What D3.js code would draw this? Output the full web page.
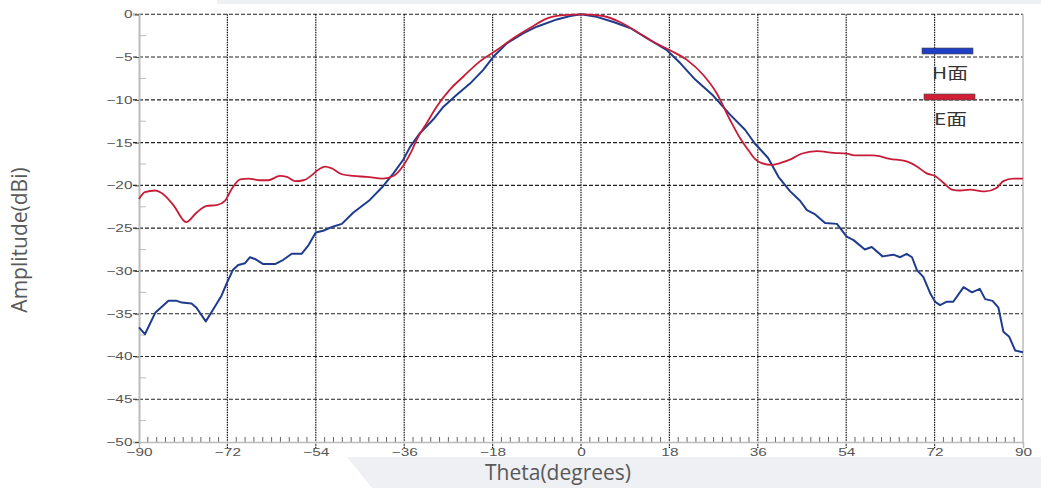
<!DOCTYPE html>
<html>
<head>
<meta charset="utf-8">
<script src="https://cdn.jsdelivr.net/npm/d3@7"></script>
<style>
  body { margin: 0; background: #fff; }
  #container { width: 1041px; height: 488px; }
</style>
</head>
<body>
<div id="container"></div>
<script>
/* DATA */
const xTicks = [-90, -72, -54, -36, -18, 0, 18, 36, 54, 72, 90];
const yTicks = [0, -5, -10, -15, -20, -25, -30, -35, -40, -45, -50];

// H面 (blue)
const hTheta = [-90, -88.8, -86.7, -84.0, -82.3, -81.3, -79.3, -78.3, -76.4, -74.9, -73.2, -72.1, -70.9, -69.8, -68.4, -67.4, -66.4, -64.7, -62.3, -60.6, -58.9, -56.9, -55.5, -54.0, -52.5, -50.4, -48.7, -46.4, -43.0, -40.3, -38.2, -36.2, -34.8, -32.8, -30.1, -28.0, -25.3, -22.6, -19.9, -17.9, -15.1, -11.7, -9.0, -4.9, -2.2, 0, 3.2, 6.6, 10.0, 13.4, 17.5, 20.2, 23.2, 26.9, 30.3, 33.4, 35.4, 38.1, 40.2, 42.6, 44.6, 46.0, 47.7, 49.7, 52.1, 54.1, 55.5, 57.8, 59.2, 61.4, 63.6, 65.0, 66.3, 67.4, 68.4, 69.7, 71.1, 72.1, 73.1, 74.5, 75.8, 77.9, 79.6, 81.2, 82.3, 83.8, 85.0, 86.0, 87.2, 88.4, 90];
const hGain = [-36.6, -37.4, -34.9, -33.5, -33.5, -33.7, -33.8, -34.3, -35.9, -34.5, -32.9, -31.4, -29.9, -29.3, -29.1, -28.4, -28.6, -29.2, -29.2, -28.7, -28.0, -28.0, -27.0, -25.5, -25.3, -24.8, -24.5, -23.2, -21.7, -20.1, -18.6, -17.0, -15.5, -13.9, -12.3, -10.8, -9.4, -8.1, -6.5, -5.0, -3.4, -2.2, -1.45, -0.6, -0.2, 0, -0.3, -0.9, -1.6, -2.8, -4.2, -5.7, -7.6, -9.5, -11.7, -13.5, -15.1, -16.8, -19.0, -20.7, -21.8, -22.9, -23.4, -24.4, -24.5, -26.0, -26.4, -27.5, -27.2, -28.3, -28.1, -28.4, -28.0, -28.4, -29.9, -30.7, -32.6, -33.6, -34.0, -33.6, -33.6, -31.9, -32.5, -32.1, -33.3, -33.5, -34.3, -37.1, -37.7, -39.3, -39.5];

// E面 (red)
const eTheta = [-90, -88.8, -86.7, -85.4, -83.0, -80.4, -78.3, -76.2, -74.2, -72.5, -71.1, -69.4, -67.7, -65.4, -63.7, -61.3, -59.9, -58.2, -56.5, -54.8, -53.8, -52.1, -50.8, -48.7, -46.4, -43.6, -40.3, -38.2, -36.2, -34.5, -33.5, -31.4, -29.4, -26.7, -24.0, -20.6, -17.2, -13.8, -10.4, -7.0, -3.6, 0.5, 4.5, 7.9, 11.3, 14.7, 18.1, 21.5, 24.9, 27.6, 30.3, 32.4, 34.1, 35.4, 36.8, 38.8, 40.5, 42.9, 44.9, 48.0, 51.4, 54.1, 56.1, 59.5, 62.9, 66.3, 68.4, 70.4, 72.1, 73.8, 75.5, 77.2, 79.2, 82.3, 84.6, 86.0, 88.0, 90];
const eGain = [-21.6, -20.8, -20.6, -20.9, -22.3, -24.3, -23.2, -22.4, -22.3, -21.8, -20.4, -19.3, -19.2, -19.4, -19.4, -18.9, -19.0, -19.5, -19.4, -18.8, -18.3, -17.8, -18.0, -18.7, -18.9, -19.0, -19.2, -18.9, -17.7, -16.0, -14.7, -12.7, -10.8, -8.8, -7.3, -5.5, -4.2, -2.8, -1.6, -0.5, -0.1, 0, -0.2, -0.9, -2.0, -3.2, -4.2, -5.3, -7.1, -9.2, -12.3, -14.5, -15.9, -16.9, -17.4, -17.6, -17.4, -16.9, -16.3, -16.0, -16.2, -16.3, -16.5, -16.5, -16.9, -17.2, -17.8, -18.6, -18.9, -19.7, -20.5, -20.6, -20.5, -20.7, -20.3, -19.5, -19.2, -19.2];

const seriesNames = ["H面", "E面"];

/* CONSTANTS */
const width = 1041;
const height = 488;
const plotLeft = 139, plotRight = 1023, plotTop = 14.3, plotBottom = 442;

const svg = d3.select("#container")
  .append("svg")
  .attr("width", width)
  .attr("height", height)

// light gray decorations behind the chart
svg.append("rect")
  .attr("x", 217).attr("y", 0).attr("width", width - 217).attr("height", 4)
  .attr("fill", "#eef0f4")
svg.append("polygon")
  .attr("points", `347,457 ${width},457 ${width},${height} 372,${height}`)
  .attr("fill", "#eef0f4")

/* SCALES */
const xScale = d3.scaleLinear().domain([-90, 90]).range([plotLeft, plotRight])
const yScale = d3.scaleLinear().domain([-50, 0]).range([plotBottom, plotTop])

/* GRID */
svg.append("g")
  .selectAll("line")
  .data(yTicks.filter(d => d > -50))
  .join("line")
  .attr("x1", plotLeft - 6).attr("x2", plotRight)
  .attr("y1", d => yScale(d)).attr("y2", d => yScale(d))
  .attr("stroke", "#222")
  .attr("stroke-width", 1.1)
  .attr("stroke-dasharray", "4,2")

svg.append("g")
  .selectAll("line")
  .data(xTicks.filter(d => d > -90 && d < 90))
  .join("line")
  .attr("x1", d => xScale(d)).attr("x2", d => xScale(d))
  .attr("y1", plotTop).attr("y2", plotBottom + 6)
  .attr("stroke", "#111")
  .attr("stroke-width", 1.2)
  .attr("stroke-dasharray", "1.5,1")

// minor ticks
const xMinor = d3.range(0, 101).map(i => -90 + i * 1.8).filter((d, i) => i % 10 !== 0)
svg.append("g")
  .selectAll("line")
  .data(xMinor)
  .join("line")
  .attr("x1", d => xScale(d)).attr("x2", d => xScale(d))
  .attr("y1", plotBottom - 5).attr("y2", plotBottom)
  .attr("stroke", "#666")

const yMinor = yTicks.slice(0, -1).map(d => d - 2.5)
svg.append("g")
  .selectAll("line")
  .data(yMinor)
  .join("line")
  .attr("x1", plotLeft).attr("x2", plotLeft + 7)
  .attr("y1", d => yScale(d)).attr("y2", d => yScale(d))
  .attr("stroke", "#bbb")

/* AXES */
const xAxis = d3.axisBottom(xScale).tickValues(xTicks).tickSize(6).tickPadding(0.5)
const gx = svg.append("g")
  .attr("transform", `translate(0,${plotBottom})`)
  .call(xAxis)
gx.select(".domain").attr("stroke", "#bbb").attr("stroke-width", 1.5)
gx.selectAll(".tick line").attr("stroke", d => (d === -90 || d === 90) ? "#bbb" : "none")
gx.selectAll("text")
  .attr("fill", "#555")
  .attr("font-family", "Liberation Sans, Arial, sans-serif")
  .attr("font-size", 11)
  .attr("transform", "scale(1.4,1)")

const yAxis = d3.axisLeft(yScale).tickValues(yTicks).tickSize(6).tickPadding(0)
const gy = svg.append("g")
  .attr("transform", `translate(${plotLeft},0)`)
  .call(yAxis)
gy.select(".domain").attr("stroke", "#bbb").attr("stroke-width", 2)
gy.selectAll(".tick line").attr("stroke", "#444").attr("stroke-dasharray", "4,2")
gy.selectAll("text")
  .attr("fill", "#555")
  .attr("font-family", "Liberation Sans, Arial, sans-serif")
  .attr("font-size", 11)
  .attr("x", -6.5 / 1.4)
  .attr("transform", "scale(1.4,1)")

// right border
svg.append("line")
  .attr("x1", plotRight).attr("x2", plotRight)
  .attr("y1", plotTop).attr("y2", plotBottom)
  .attr("stroke", "#bbb").attr("stroke-width", 1.5)

/* LINES */
const hData = hTheta.map((t, i) => ({ t, v: hGain[i] }))
const eData = eTheta.map((t, i) => ({ t, v: eGain[i] }))

const lineH = d3.line().x(d => xScale(d.t)).y(d => yScale(d.v))
const lineE = d3.line().x(d => xScale(d.t)).y(d => yScale(d.v)).curve(d3.curveMonotoneX)

svg.append("path")
  .datum(hData)
  .attr("d", lineH)
  .attr("fill", "none")
  .attr("stroke", "#1f3b8e")
  .attr("stroke-width", 2)
  .attr("stroke-linejoin", "round")

svg.append("path")
  .datum(eData)
  .attr("d", lineE)
  .attr("fill", "none")
  .attr("stroke", "#c71c37")
  .attr("stroke-width", 1.8)

/* LEGEND */
const legend = [
  { name: seriesNames[0], color: "#1f3fc4", x: 922, y: 48 },
  { name: seriesNames[1], color: "#d01f35", x: 924, y: 94 }
]
legend.forEach(l => {
  svg.append("rect")
    .attr("x", l.x).attr("y", l.y).attr("width", 51).attr("height", 6)
    .attr("fill", l.color).attr("stroke", "#444").attr("stroke-width", 0.6)
  svg.append("text")
    .attr("transform", `translate(${l.x + 10},${l.y + 31}) scale(1.3,1)`)
    .attr("font-family", "Noto Sans CJK SC, sans-serif")
    .attr("font-size", 16)
    .attr("fill", "#333")
    .text(l.name)
})

/* TITLES */
svg.append("text")
  .attr("transform", "translate(27,240) rotate(-90)")
  .attr("text-anchor", "middle")
  .attr("font-family", "Open Sans, sans-serif")
  .attr("font-size", 21)
  .attr("fill", "#595959")
  .text("Amplitude(dBi)")

svg.append("text")
  .attr("x", 558).attr("y", 480)
  .attr("text-anchor", "middle")
  .attr("font-family", "Open Sans, sans-serif")
  .attr("font-size", 21)
  .attr("fill", "#595959")
  .text("Theta(degrees)")
</script>
</body>
</html>
